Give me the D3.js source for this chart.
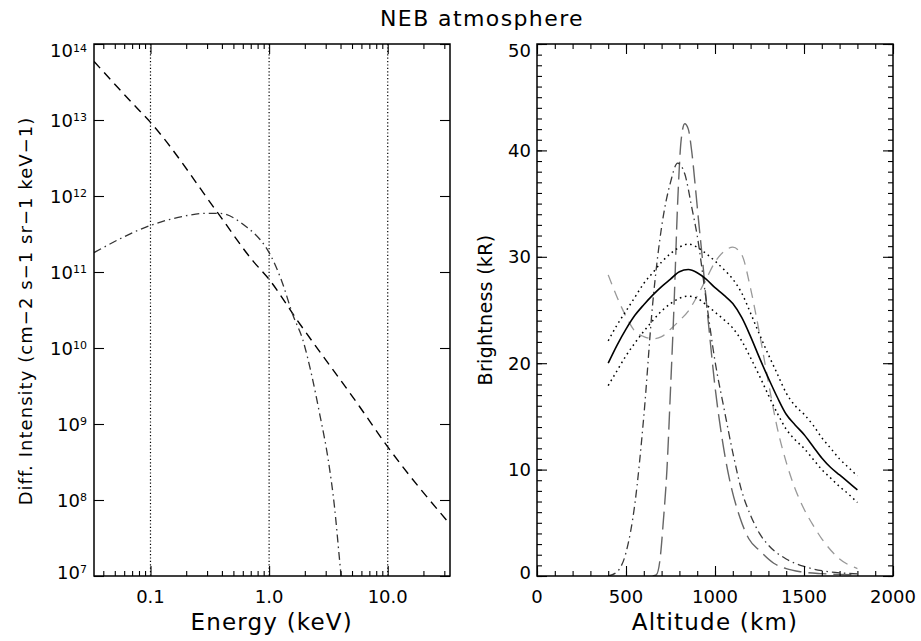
<!DOCTYPE html>
<html><head><meta charset="utf-8">
<script src="https://cdn.jsdelivr.net/npm/d3@7"></script>
<style>
body{margin:0;background:#fff}
svg{display:block}
text{font-family:"DejaVu Sans",sans-serif;fill:#000}
</style>
</head><body>
<svg id="c" width="921" height="641"></svg>
<script>
// ---------- DATA ----------
const chartTitle = "NEB atmosphere";

// Left panel: differential intensity spectra
const energyPowerLaw = [0.0334, 0.072, 0.1, 0.372, 0.73, 1.0, 1.7, 5.78, 10, 33.5];
const intensityPowerLaw = [5.9e13, 1.6e13, 9.3e12, 5.9e11, 1.4e11, 8e10, 2.4e10, 1.7e9, 5e8, 4.8e7];

const energyMaxwell = [0.0334, 0.1, 0.2, 0.279, 0.385, 0.646, 0.835, 1.0, 1.27, 1.59, 1.93, 2.27, 2.67, 3.13, 3.56, 3.93, 4.1];
const intensityMaxwell = [1.8e11, 4.1e11, 5.5e11, 5.9e11, 5.9e11, 3.9e11, 2.7e11, 1.8e11, 7.8e10, 2.7e10, 1.26e10, 4.6e9, 1.35e9, 3.6e8, 8.1e7, 1.6e7, 8e6];

const energyGuides = [0.1, 1, 10];
const energyMajorTicks = [0.1, 1, 10];
const energyTickLabels = ["0.1", "1.0", "10.0"];
const energyMinorTicks = [0.04,0.05,0.06,0.07,0.08,0.09,0.2,0.3,0.4,0.5,0.6,0.7,0.8,0.9,2,3,4,5,6,7,8,9,20,30];
const intensityTicks = [1e7,1e8,1e9,1e10,1e11,1e12,1e13,1e14];
const intensityExponents = ["7","8","9","10","11","12","13","14"];

// Right panel: brightness vs altitude
const altObs = [400,450,500,550,600,650,700,750,800,850,900,950,1000,1050,1100,1150,1200,1250,1300,1350,1400,1450,1500,1550,1600,1650,1700,1750,1800];
const brightObs   = [20.0,21.7,23.2,24.5,25.5,26.4,27.2,27.9,28.6,28.8,28.5,27.9,27.1,26.4,25.6,24.3,22.5,20.5,18.6,16.8,15.2,14.2,13.3,12.2,11.1,10.2,9.5,8.8,8.1];
const brightUpper = [22.1,23.6,24.9,26.2,27.5,28.5,29.5,30.3,30.9,31.2,30.9,30.3,29.6,28.8,27.9,26.6,24.7,22.7,20.8,19.0,17.2,16.0,15.2,14.2,13.0,12.0,11.0,10.2,9.4];
const brightLower = [17.9,19.3,20.7,21.9,23.0,24.0,24.9,25.6,26.1,26.3,26.1,25.5,24.8,24.1,23.3,22.1,20.5,18.8,17.0,15.3,13.8,12.8,12.0,11.0,10.0,9.2,8.4,7.7,6.9];

const altDashDot = [400,450,500,550,600,650,700,750,790,830,870,900,950,1000,1050,1100,1150,1200,1250,1300,1400,1500,1600,1700,1800];
const brightDashDot = [0.0,0.4,2.2,6.8,15.0,25.6,32.8,37.0,38.8,37.8,34.6,32.0,26.0,20.2,15.8,11.6,8.0,5.7,4.0,2.9,1.6,0.9,0.5,0.3,0.2];

const altLongDash = [650,670,690,710,730,750,770,790,810,830,850,870,890,910,930,950,970,1000,1040,1080,1140,1190,1250,1330,1400,1480,1600,1700,1800];
const brightLongDash = [0.0,0.1,1.4,5.2,10.0,17.5,25.5,35.0,41.0,42.5,42.0,39.8,36.5,33.0,29.7,26.0,22.6,17.8,12.9,9.2,5.5,3.5,2.4,1.2,0.7,0.4,0.22,0.15,0.1];

const altShortDash = [400,450,500,550,600,650,700,750,800,850,900,950,1000,1050,1100,1150,1200,1250,1300,1350,1400,1450,1500,1550,1600,1700,1800];
const brightShortDash = [28.3,26.2,24.4,23.0,22.5,22.3,22.5,23.2,24.0,24.9,26.3,27.9,29.5,30.5,30.9,30.2,27.0,22.8,18.2,13.9,10.7,8.2,6.3,4.8,3.5,1.6,0.7];

const altMajorTicks = [0,500,1000,1500,2000];
const altMinorTicks = d3.range(0, 2001, 100);
const brightMajorTicks = [0,10,20,30,40,50];
const brightMinorTicks = d3.range(0, 51, 1);

// ---------- LAYOUT ----------
const svg = d3.select("#c");
const L = {x0:94, x1:450, y0:44, y1:576};
const R = {x0:537, x1:893, y0:44, y1:576};

const xE = d3.scaleLog().domain([0.0334, 33.5]).range([L.x0, L.x1]);
const yI = d3.scaleLog().domain([1e7, 1e14]).range([L.y1, L.y0]);
const xA = d3.scaleLinear().domain([0, 2000]).range([R.x0, R.x1]);
const yB = d3.scaleLinear().domain([0, 50]).range([R.y1, R.y0]);

const defs = svg.append("defs");
[["clipL", L], ["clipR", R]].forEach(([id, P]) => {
  defs.append("clipPath").attr("id", id).append("rect")
    .attr("x", P.x0).attr("y", P.y0).attr("width", P.x1 - P.x0).attr("height", P.y1 - P.y0);
});

function drawTicks(P, xs, ys, xMaj, xMin, yMaj, yMin) {
  const g = svg.append("g");
  const style = sel => {
    sel.select(".domain").remove();
    sel.selectAll("text").remove();
    sel.selectAll("line").attr("stroke", "#000").attr("stroke-width", 1.1);
  };
  const specs = [
    [d3.axisBottom(xs), `translate(0,${P.y1})`, xMaj, xMin],
    [d3.axisTop(xs), `translate(0,${P.y0})`, xMaj, xMin],
    [d3.axisLeft(ys), `translate(${P.x0},0)`, yMaj, yMin],
    [d3.axisRight(ys), `translate(${P.x1},0)`, yMaj, yMin]
  ];
  specs.forEach(([ax, tr, maj, min]) => {
    if (min) g.append("g").attr("transform", tr)
      .call(ax.tickValues(min).tickSize(-5).tickFormat(""))
      .call(style);
    g.append("g").attr("transform", tr)
      .call(ax.tickValues(maj).tickSize(-10).tickFormat(""))
      .call(style);
  });
  g.append("rect").attr("x", P.x0).attr("y", P.y0)
    .attr("width", P.x1 - P.x0).attr("height", P.y1 - P.y0)
    .attr("fill", "none").attr("stroke", "#000").attr("stroke-width", 1.5);
}

// ---------- LEFT PANEL ----------
const gl = svg.append("g").attr("clip-path", "url(#clipL)");
gl.selectAll("line.guide").data(energyGuides).join("line")
  .attr("x1", d => xE(d)).attr("x2", d => xE(d))
  .attr("y1", L.y0).attr("y2", L.y1)
  .attr("stroke", "#000").attr("stroke-width", 1.2).attr("stroke-dasharray", "1.2,2.2");

const lineE = d3.line().x(d => xE(d[0])).y(d => yI(d[1]));
gl.append("path").datum(d3.zip(energyPowerLaw, intensityPowerLaw))
  .attr("d", lineE.curve(d3.curveMonotoneX)).attr("fill", "none")
  .attr("stroke", "#000").attr("stroke-width", 1.4).attr("stroke-dasharray", "9,6");
gl.append("path").datum(d3.zip(energyMaxwell, intensityMaxwell))
  .attr("d", lineE.curve(d3.curveMonotoneX)).attr("fill", "none")
  .attr("stroke", "#333").attr("stroke-width", 1.3).attr("stroke-dasharray", "8,4,1.5,4");

drawTicks(L, xE, yI, energyMajorTicks, energyMinorTicks, intensityTicks, null);

svg.selectAll("text.xl").data(energyMajorTicks).join("text")
  .attr("class", "xl").attr("x", d => xE(d)).attr("y", 602.7)
  .attr("text-anchor", "middle").style("font-size", "18px")
  .text((d, i) => energyTickLabels[i]);

const n = intensityTicks.length;
const yl = svg.selectAll("text.yl").data(intensityTicks).join("text")
  .attr("class", "yl").attr("x", 87)
  .attr("y", (d, i) => yI(d) + (i === n - 1 ? 13 : i === 0 ? 2.6 : 6.5))
  .attr("text-anchor", "end").style("font-size", "18px");
yl.append("tspan").text("10");
yl.append("tspan").attr("dy", -5.5).style("font-size", "11px").text((d, i) => intensityExponents[i]);

// ---------- RIGHT PANEL ----------
const gr = svg.append("g").attr("clip-path", "url(#clipR)");
const lineA = d3.line().x(d => xA(d[0])).y(d => yB(d[1])).curve(d3.curveMonotoneX);
const series = [
  [altShortDash, brightShortDash, "#999", 1.3, "10,7"],
  [altLongDash, brightLongDash, "#666", 1.4, "18,7"],
  [altDashDot, brightDashDot, "#3a3a3a", 1.3, "8,4,1.5,4"],
  [altObs, brightUpper, "#000", 1.5, "1.6,3.6"],
  [altObs, brightLower, "#000", 1.5, "1.6,3.6"],
  [altObs, brightObs, "#000", 1.6, null]
];
series.forEach(([xs, ys, col, w, dash]) => {
  gr.append("path").datum(d3.zip(xs, ys)).attr("d", lineA).attr("fill", "none")
    .attr("stroke", col).attr("stroke-width", w).attr("stroke-dasharray", dash);
});

drawTicks(R, xA, yB, altMajorTicks, altMinorTicks, brightMajorTicks, brightMinorTicks);

svg.selectAll("text.xr").data(altMajorTicks).join("text")
  .attr("class", "xr").attr("x", d => xA(d)).attr("y", 602.7)
  .attr("text-anchor", "middle").style("font-size", "18px").text(d => d);
const m = brightMajorTicks.length;
svg.selectAll("text.yr").data(brightMajorTicks).join("text")
  .attr("class", "yr").attr("x", 531)
  .attr("y", (d, i) => yB(d) + (i === m - 1 ? 13 : i === 0 ? 2.6 : 6.5))
  .attr("text-anchor", "end").style("font-size", "18px").text(d => d);

// ---------- TITLES ----------
svg.append("text").attr("x", 380).attr("y", 26).style("font-size", "22px")
  .style("letter-spacing", "1.4px").text(chartTitle);
svg.append("text").attr("x", 271.7).attr("y", 630).attr("text-anchor", "middle")
  .style("font-size", "23px").style("letter-spacing", "1.2px").text("Energy (keV)");
svg.append("text").attr("x", 715).attr("y", 630).attr("text-anchor", "middle")
  .style("font-size", "23px").style("letter-spacing", "1.2px").text("Altitude (km)");
svg.append("text").attr("transform", "translate(31.5,311) rotate(-90)").attr("text-anchor", "middle")
  .style("font-size", "18px").style("letter-spacing", "1.05px").text("Diff. Intensity (cm\u22122 s\u22121 sr\u22121 keV\u22121)");
svg.append("text").attr("transform", "translate(492,310) rotate(-90)").attr("text-anchor", "middle")
  .style("font-size", "19px").style("letter-spacing", "0.3px").text("Brightness (kR)");
</script>
</body></html>
